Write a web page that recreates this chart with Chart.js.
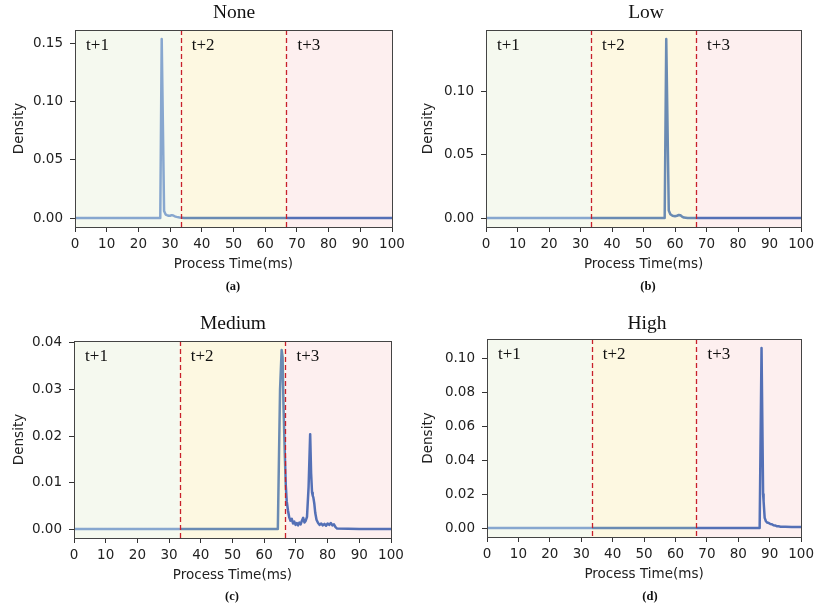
<!DOCTYPE html>
<html><head><meta charset="utf-8">
<script src="https://cdn.jsdelivr.net/npm/chart.js@4.4.1/dist/chart.umd.min.js"></script>
<style>
body{margin:0;background:#fff;width:818px;height:609px;position:relative;overflow:hidden;}
canvas{position:absolute;}
.t{position:absolute;font-family:'Liberation Serif','Times New Roman',serif;font-size:19.5px;color:#111;transform:translate(-50%,-50%);white-space:nowrap;}
.cap{position:absolute;font-family:'Liberation Serif','Times New Roman',serif;font-weight:bold;font-size:12.5px;color:#111;transform:translate(-50%,-50%);white-space:nowrap;}
</style></head><body>
<canvas id="c0" width="409" height="300" style="left:0;top:0"></canvas>
<canvas id="c1" width="409" height="300" style="left:409px;top:0"></canvas>
<canvas id="c2" width="409" height="298" style="left:0;top:311px"></canvas>
<canvas id="c3" width="409" height="298" style="left:409px;top:311px"></canvas>
<div class="t" style="left:234px;top:12px">None</div>
<div class="t" style="left:646px;top:12px">Low</div>
<div class="t" style="left:233px;top:323px">Medium</div>
<div class="t" style="left:647px;top:323px">High</div>
<div class="cap" style="left:233px;top:286px">(a)</div>
<div class="cap" style="left:648px;top:286px">(b)</div>
<div class="cap" style="left:232px;top:596px">(c)</div>
<div class="cap" style="left:650px;top:596px">(d)</div>
<script>
// ---- data ----
const regionLabels = ['t+1', 't+2', 't+3'];
const regionBounds = [0, 33.33, 66.67, 100];
const xLabel = 'Process Time(ms)';
const yLabel = 'Density';

const noneX = [0, 26.9, 27.35, 28.1, 28.6, 29.0, 29.5, 30.0, 30.5, 31.0, 31.5, 32.0, 33.0, 34.5, 100];
const noneY = [0, 0, 0.154, 0.006, 0.003, 0.0025, 0.002, 0.002, 0.0025, 0.0022, 0.0015, 0.001, 0.0005, 0, 0];

const lowX = [0, 56.7, 57.2, 58.0, 58.5, 59.2, 60.0, 60.6, 61.2, 61.7, 62.2, 62.8, 64, 100];
const lowY = [0, 0, 0.142, 0.006, 0.003, 0.0018, 0.0015, 0.0018, 0.0024, 0.0022, 0.0012, 0.0004, 0, 0];

const mediumX = [0, 20, 40, 60, 64.3, 65.0, 65.5, 65.8, 66.1, 66.5, 66.8, 67.1, 67.5, 67.9, 68.3, 68.7, 69.1, 69.5, 69.9, 70.3, 70.7, 71.1, 71.5, 71.9, 72.3, 72.7, 73.1, 73.5, 74.0, 74.5, 74.8, 75.1, 75.3, 75.5, 75.8, 76.1, 76.5, 77.0, 77.5, 78.0, 78.5, 79.0, 79.5, 80.0, 80.5, 81.0, 81.5, 82.0, 82.5, 83.0, 90, 100];
const mediumY = [0, 0, 0, 0, 0, 0.03, 0.0385, 0.037, 0.026, 0.016, 0.0095, 0.006, 0.004, 0.0025, 0.0018, 0.0022, 0.0012, 0.0016, 0.0009, 0.0013, 0.0008, 0.0014, 0.001, 0.0018, 0.0024, 0.0014, 0.0018, 0.0026, 0.009, 0.0204, 0.012, 0.0078, 0.0072, 0.0068, 0.0055, 0.0035, 0.002, 0.0013, 0.0009, 0.0012, 0.0008, 0.0011, 0.0007, 0.0012, 0.0009, 0.0013, 0.0008, 0.001, 0.0004, 0.0001, 0, 0];

const highX = [0, 50, 86.8, 87.4, 87.9, 88.05, 88.4, 88.8, 89.2, 89.7, 90.2, 90.7, 91.2, 91.7, 92.2, 92.8, 93.5, 95, 97, 100];
const highY = [0, 0, 0, 0.1065, 0.02, 0.016, 0.006, 0.004, 0.0032, 0.003, 0.0024, 0.0022, 0.0016, 0.0015, 0.0011, 0.001, 0.0008, 0.0007, 0.0006, 0.0006];

const panels = [
  {id:'c0', xs:noneX, ys:noneY, step:0.05, yw:75, pad:{left:0,right:17,top:30,bottom:27}},
  {id:'c1', xs:lowX, ys:lowY, step:0.05, yw:77, pad:{left:0,right:14,top:30,bottom:27}},
  {id:'c2', xs:mediumX, ys:mediumY, step:0.01, yw:74, pad:{left:0,right:18,top:30,bottom:25}},
  {id:'c3', xs:highX, ys:highY, step:0.02, yw:78, pad:{left:0,right:13,top:28,bottom:26}}
];

const bgColors = ['#f5f9ef', '#fdf8e1', '#fdefef'];
const lineColors = ['#87a7cf', '#6a8bb3', '#5470b6'];
const tickFont = {family:'DejaVu Sans', size:13.5};
const axisColor = '#222';

function regionGradient(ctx){
  const chart = ctx.chart;
  if (!chart.chartArea) return lineColors[0];
  const x = chart.scales.x;
  const x0 = x.getPixelForValue(regionBounds[0]);
  const x3 = x.getPixelForValue(regionBounds[3]);
  const g = chart.ctx.createLinearGradient(x0, 0, x3, 0);
  const span = regionBounds[3]-regionBounds[0];
  for (let i=0;i<3;i++){
    g.addColorStop((regionBounds[i]-regionBounds[0])/span, lineColors[i]);
    g.addColorStop((regionBounds[i+1]-regionBounds[0])/span, lineColors[i]);
  }
  return g;
}

const decor = {
  id:'decor',
  beforeDatasetsDraw(chart){
    const {ctx, chartArea:a, scales:{x}} = chart;
    ctx.save();
    for (let i=0;i<3;i++){
      const x0 = x.getPixelForValue(regionBounds[i]);
      const x1 = x.getPixelForValue(regionBounds[i+1]);
      ctx.fillStyle = bgColors[i];
      ctx.fillRect(x0, a.top, x1-x0, a.bottom-a.top);
    }
    ctx.restore();
  },
  afterDatasetsDraw(chart){
    const {ctx, chartArea:a, scales:{x}} = chart;
    ctx.save();
    ctx.strokeStyle = '#c8202a';
    ctx.lineWidth = 1.3;
    ctx.setLineDash([5,3]);
    [regionBounds[1], regionBounds[2]].forEach(v=>{
      const px = Math.round(x.getPixelForValue(v))+0.5;
      ctx.beginPath(); ctx.moveTo(px, a.top); ctx.lineTo(px, a.bottom); ctx.stroke();
    });
    ctx.setLineDash([]);
    ctx.strokeStyle = '#444';
    ctx.lineWidth = 1;
    ctx.strokeRect(Math.round(a.left)+0.5, Math.round(a.top)+0.5, Math.round(a.right-a.left), Math.round(a.bottom-a.top));
    ctx.fillStyle = '#111';
    ctx.font = '17px "Liberation Serif", "Times New Roman", serif';
    ctx.textBaseline = 'middle';
    ctx.textAlign = 'left';
    for (let i=0;i<3;i++){
      ctx.fillText(regionLabels[i], x.getPixelForValue(regionBounds[i]+3.5), a.top+16);
    }
    ctx.restore();
  }
};

panels.forEach(p=>{
  const ymaxData = Math.max(...p.ys);
  const m = ymaxData*0.05;
  new Chart(document.getElementById(p.id), {
    type:'line',
    data:{datasets:[{
      data: p.xs.map((v,i)=>({x:v, y:p.ys[i]})),
      borderWidth:2.5,
      pointRadius:0,
      tension:0,
      fill:false,
      borderJoinStyle:'round',
      borderColor: regionGradient
    }]},
    options:{
      responsive:false, animation:false,
      layout:{padding:p.pad},
      plugins:{legend:{display:false}, tooltip:{enabled:false}},
      scales:{
        x:{type:'linear', min:0, max:100,
          ticks:{stepSize:10, font:tickFont, color:axisColor, padding:4, maxRotation:0, autoSkip:false, includeBounds:false},
          grid:{display:true, drawOnChartArea:false, drawTicks:true, tickLength:5, tickColor:'#333'},
          border:{display:false},
          title:{display:true, text:xLabel, font:tickFont, color:axisColor, padding:{top:0,bottom:0}},
          afterFit(s){ s.height = 46; }
        },
        y:{type:'linear', min:-m, max:ymaxData+m,
          ticks:{stepSize:p.step, font:tickFont, color:axisColor, padding:7, includeBounds:false,
            callback:v=>Number(v).toFixed(2)},
          grid:{display:true, drawOnChartArea:false, drawTicks:true, tickLength:5, tickColor:'#333'},
          border:{display:false},
          title:{display:true, text:yLabel, font:tickFont, color:axisColor, padding:{top:11,bottom:0}},
          afterFit(s){ s.width = p.yw; }
        }
      }
    },
    plugins:[decor]
  });
});
</script>
</body></html>
